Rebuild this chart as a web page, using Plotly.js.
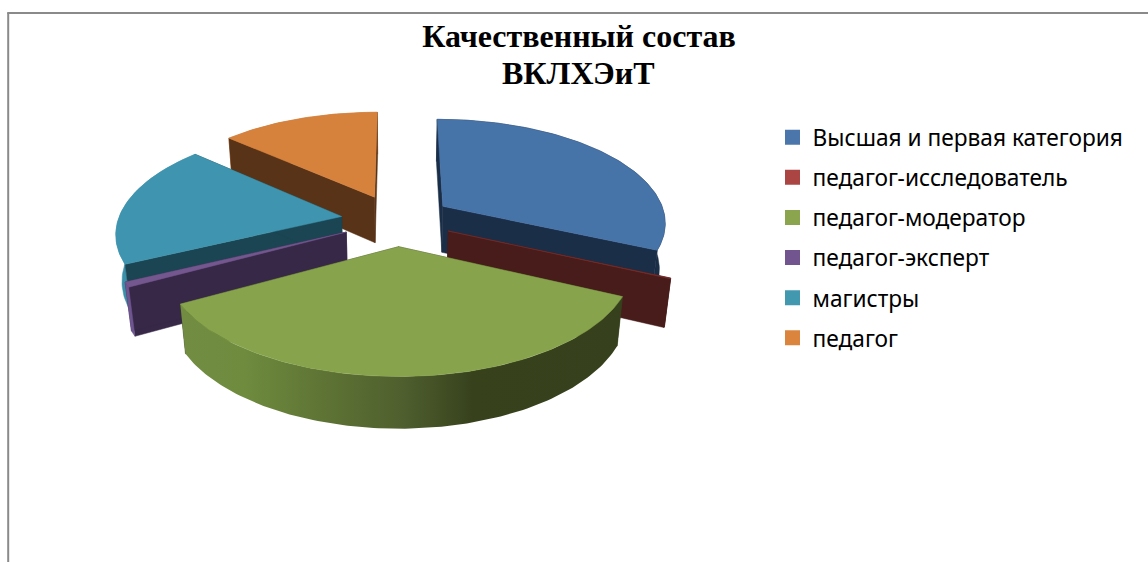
<!DOCTYPE html>
<html><head><meta charset="utf-8">
<script src="https://cdn.plot.ly/plotly-3.0.1.min.js"></script>
<style>html,body{margin:0;padding:0;background:#fff}#chart{width:1148px;height:562px}</style>
</head><body><div id="chart"></div>
<script>
const categories = ["Высшая и первая категория","педагог-исследователь","педагог-модератор","педагог-эксперт","магистры","педагог"];
const values = [31.8, 0.1, 35.0, 0.75, 18.85, 13.35];
const legendColors = ["#4a76ab","#ab4543","#8aa54d","#72558f","#4198af","#db843d"];
const topColors = ["#4673a8","#7a2f2c","#87a34c","#74578f","#3f95af","#d7823c"];
const faceColors = ["#1a2e47","#481c1a","#36401c","#372848","#1b4552","#583317"];
const rimColors = ["#1a2e47","#481c1a","#36401c","#6e5590","#3a90a8","#c0743a"];
const drawOrder = [5,0,4,1,3,2];
const titleLine1 = "Качественный состав";
const titleLine2 = "ВКЛХЭиТ";

// projection of the tilted, exploded pie
const P = {cx:396.7, cy:220, R:223.4, S:103, k:0.142, m:0.022, D:47.5, explode:0.25};
function project(u,v,z){
  const w = 1 + P.k*v + P.m*z;
  return [P.cx + P.R*u/w, P.cy - (P.S*v - P.D*z)/w];
}
const total = values.reduce((a,b)=>a+b,0);
let acc = 0;
const slices = values.map(val=>{
  const a0 = acc/total*2*Math.PI; acc += val; const a1 = acc/total*2*Math.PI;
  const mid = (a0+a1)/2;
  return {a0,a1,mid,ou:P.explode*Math.sin(mid),ov:P.explode*Math.cos(mid)};
});
function rimPoint(s,a,z){ return project(s.ou+Math.sin(a), s.ov+Math.cos(a), z); }
function arc(s,z,rev){
  const n = Math.max(2,Math.ceil((s.a1-s.a0)/0.02)), pts=[];
  for(let i=0;i<=n;i++){ pts.push(rimPoint(s, s.a0+(s.a1-s.a0)*i/n, z)); }
  return rev?pts.reverse():pts;
}
function poly(pts,color,extra){
  return Object.assign({type:"scatter",mode:"lines",x:pts.map(p=>p[0]).concat(pts[0][0]),y:pts.map(p=>p[1]).concat(pts[0][1]),
    fill:"toself",fillcolor:color,line:{width:0.5,color:color},hoverinfo:"skip",showlegend:false},extra||{});
}
const traces=[];
drawOrder.forEach(i=>{
  const s=slices[i];
  const apexT=project(s.ou,s.ov,0), apexB=project(s.ou,s.ov,1);
  const extra = i===2 ? {line:{width:0},fillgradient:{type:"horizontal",start:181,stop:623,
     colorscale:[[0,"#728d42"],[0.145,"#6e8b3e"],[0.31,"#5f7535"],[0.5,"#4f5f2e"],[0.66,"#37421d"],[1,"#36401c"]]}} : {};
  const rim=poly(arc(s,0,false).concat(arc(s,1,true)),rimColors[i],extra);
  const front = Math.cos(s.mid)<0;
  if(!front) traces.push(rim);
  traces.push(poly([apexT,rimPoint(s,s.a0,0),rimPoint(s,s.a0,1),apexB],faceColors[i]));
  traces.push(poly([apexT,rimPoint(s,s.a1,0),rimPoint(s,s.a1,1),apexB],faceColors[i]));
  if(front) traces.push(rim);
  traces.push(poly([apexT].concat(arc(s,0,false)),topColors[i]));
});
categories.forEach((c,i)=>{
  traces.push({type:"scatter",mode:"markers",x:[null],y:[null],name:c,legendgroup:"g"+i,
    marker:{symbol:"square",size:15,color:legendColors[i]},hoverinfo:"skip"});
});
const titleFont = {family:"Liberation Serif",size:32,color:"#000",weight:"bold"};
const layout={
  width:1148,height:562,margin:{l:0,r:0,t:0,b:0},paper_bgcolor:"#fff",plot_bgcolor:"#fff",
  xaxis:{range:[0,1148],visible:false,fixedrange:true},
  yaxis:{range:[562,0],visible:false,fixedrange:true},
  title:{text:titleLine1,x:579/1148,xanchor:"center",y:1-36/562,yanchor:"middle",font:titleFont},
  annotations:[{text:titleLine2,x:578,y:73,xref:"x",yref:"y",xanchor:"center",yanchor:"middle",showarrow:false,font:titleFont}],
  legend:{x:772.5/1148,y:1-116/562,xanchor:"left",yanchor:"top",bgcolor:"rgba(0,0,0,0)",
    font:{family:"Noto Sans",size:22.7,color:"#000"},tracegroupgap:7.6,itemwidth:30,itemclick:false,itemdoubleclick:false},
  shapes:[
    {type:"line",x0:8.2,x1:8.2,y0:13,y1:562,line:{color:"#8a8a8a",width:2}},
    {type:"line",x0:7.2,x1:1148,y0:13,y1:13,line:{color:"#8a8a8a",width:2}}
  ],
  showlegend:true,hovermode:false
};
Plotly.newPlot("chart",traces,layout,{displayModeBar:false});
</script></body></html>
